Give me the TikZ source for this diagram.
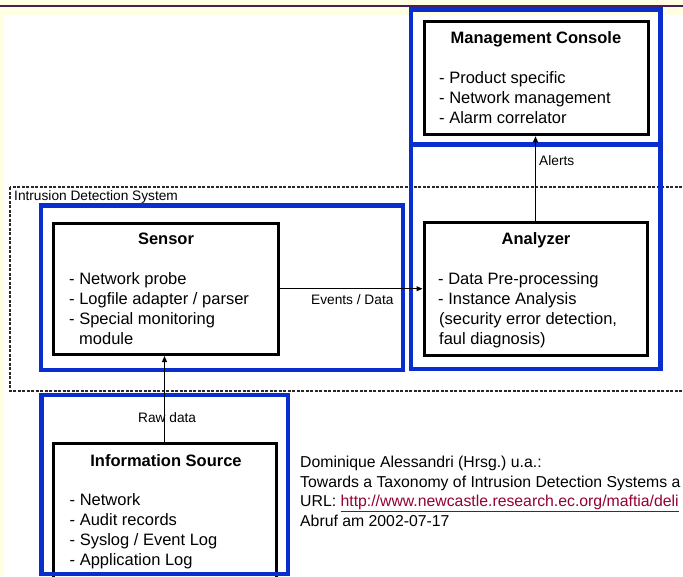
\documentclass[tikz,border=0pt]{standalone}
\usepackage{fontspec}
\setmainfont{Liberation Sans}
\usetikzlibrary{arrows.meta}
\definecolor{cream}{RGB}{255,255,228}
\definecolor{bandpurple}{RGB}{75,30,85}
\definecolor{boxblue}{RGB}{10,45,205}
\definecolor{urlred}{RGB}{150,0,50}
\definecolor{dashgray}{RGB}{40,40,40}
\frenchspacing
\begin{document}
\begin{tikzpicture}[x=1pt,y=-1pt,
  blk/.style={draw=black, line width=3pt, fill=white, rectangle, inner sep=0pt},
  bluebox/.style={draw=boxblue, line width=4.5pt},
  idsbox/.style={draw=dashgray, line width=1.2pt, dash pattern=on 3pt off 1.5pt},
  conn/.style={draw=black, line width=1.1pt, -{Triangle[length=6pt,width=5pt]}},
  title/.style={font=\fontsize{16.5}{20}\selectfont\bfseries, anchor=base, inner sep=0pt},
  item/.style={font=\fontsize{16.5}{20}\selectfont, anchor=base west, inner sep=0pt},
  cite/.style={font=\fontsize{15.8}{20}\selectfont, anchor=base west, inner sep=0pt},
  lbl/.style={font=\fontsize{13.7}{16}\selectfont, anchor=base west, inner sep=0pt},
]
\useasboundingbox (0,0) rectangle (683,576);
\begin{scope}
\clip (0,0) rectangle (683,576);
% background
\fill[cream] (0,0) rectangle (683,576);
\fill[white] (3.5,15) rectangle (683,576);
\draw[bandpurple, line width=2.5pt] (0,6) -- (683,6);
% IDS dashed frame
\draw[idsbox] (10,187) rectangle (700,391);
\node[lbl] (idslbl) at (14,200.5) {Intrusion Detection System};
% blue frames
\draw[bluebox] (411,9.5) rectangle (660.5,144.5);
\draw[bluebox] (411,144.5) rectangle (660.5,369);
\draw[bluebox] (41,205.5) rectangle (403,370);
\draw[bluebox] (41.5,395) rectangle (288,574);
% black boxes
\node[blk, minimum width=224pt, minimum height=113.5pt] (mc) at (536,78) {};
\node[blk, minimum width=223pt, minimum height=132.5pt] (analyzer) at (535.5,288.75) {};
\node[blk, minimum width=225.5pt, minimum height=131.5pt] (sensor) at (165.75,288.75) {};
\node[blk, minimum width=223pt, minimum height=160pt] (info) at (164.5,523.5) {};
% blue frame of info drawn over the box bottom
\draw[boxblue, line width=4.5pt] (39.25,574) -- (290.25,574);
% texts: management console
\node[title] (mct) at (536,43) {Management Console};
\node[item] (mc1) at (439,83) {- Product specific};
\node[item] (mc2) at (439,103) {- Network management};
\node[item] (mc3) at (439,123) {- Alarm correlator};
% sensor
\node[title] (sent) at (166,244) {Sensor};
\node[item] (se1) at (69,284) {- Network probe};
\node[item] (se2) at (69,304) {- Logfile adapter / parser};
\node[item] (se3) at (69,324) {- Special monitoring};
\node[item] (se4) at (79,344) {module};
% analyzer
\node[title] (ant) at (536,244) {Analyzer};
\node[item] (an1) at (438,284) {- Data Pre-processing};
\node[item] (an2) at (438,304) {- Instance Analysis};
\node[item] (an3) at (439,324) {(security error detection,};
\node[item] (an4) at (439,344) {faul diagnosis)};
% information source
\node[title] (inft) at (166,466) {Information Source};
\node[item] (in1) at (69.5,505) {- Network};
\node[item] (in2) at (69.5,525) {- Audit records};
\node[item] (in3) at (69.5,545) {- Syslog / Event Log};
\node[item] (in4) at (69.5,565) {- Application Log};
% connector labels
\node[lbl] (alertslbl) at (539,165.5) {Alerts};
\node[lbl] (evlbl) at (311,304) {Events / Data};
\node[lbl] (rawlbl) at (138,422.3) {Raw data};
% connectors
\draw[conn] (analyzer.north) -- (analyzer.north |- mc.south);
\draw[conn] (sensor.east) -- (analyzer.west);
\draw[conn] (info.north) -- (info.north |- sensor.south);
% citation
\node[cite] (cit1) at (300,467) {Dominique Alessandri (Hrsg.) u.a.:};
\node[cite] (cit2) at (300,487) {Towards a Taxonomy of Intrusion Detection Systems a};
\node[cite] (cit3) at (300,506.5) {URL: \textcolor{urlred}{\underline{http://www.newcastle.research.ec.org/maftia/deli}}};
\node[cite] (cit4) at (300,526) {Abruf am 2002-07-17};
\end{scope}
\end{tikzpicture}
\end{document}
